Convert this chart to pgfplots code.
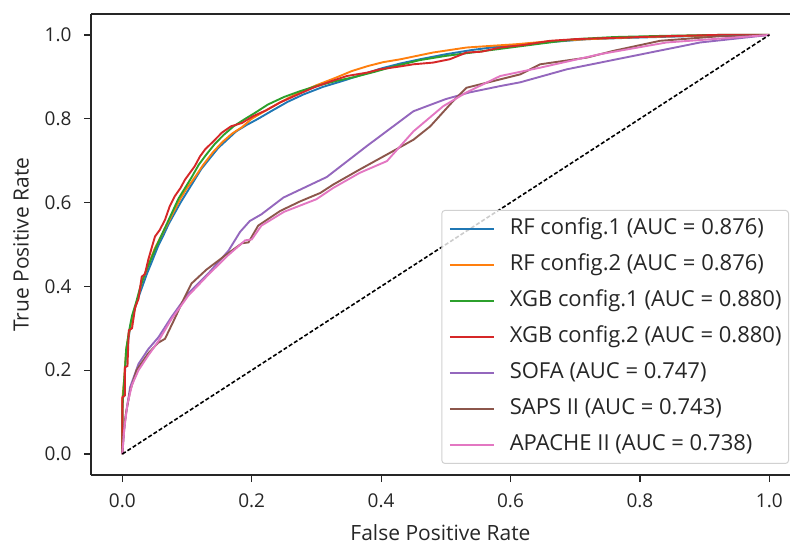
\documentclass[border=0pt]{standalone}
\usepackage{fontspec}
\setmainfont{Open Sans}
\usepackage{pgfplots}
\pgfplotsset{compat=1.18}

\definecolor{c0}{HTML}{1F77B4}
\definecolor{c1}{HTML}{FF7F0E}
\definecolor{c2}{HTML}{2CA02C}
\definecolor{c3}{HTML}{D62728}
\definecolor{c4}{HTML}{9467BD}
\definecolor{c5}{HTML}{8C564B}
\definecolor{c6}{HTML}{E377C2}

\newcommand{\tck}{\fontsize{19bp}{22bp}\selectfont}
\newcommand{\lbl}{\fontsize{21bp}{24bp}\selectfont}
\newcommand{\leg}{\fontsize{22bp}{25bp}\selectfont}

\begin{document}
\begin{tikzpicture}
\useasboundingbox (-91bp,-70bp) rectangle (699bp,475bp);
\begin{axis}[scale only axis, width=699bp, height=461bp,
  at={(0,0)}, anchor=south west,
  xmin=-0.0484, xmax=1.032, ymin=-0.05, ymax=1.05,
  axis lines*=left, tick align=outside,
  axis line style={line width=1.3bp, black!85},
  major tick length=7bp, every tick/.style={line width=1.2bp, black!85},
  xtick={0,0.2,0.4,0.6,0.8,1}, ytick={0,0.2,0.4,0.6,0.8,1},
  /pgf/number format/assume math mode=true,
  /pgf/number format/.cd, fixed, fixed zerofill, precision=1, /pgfplots/.cd,
  tick label style={font=\tck, text=black!85},
  label style={font=\lbl, text=black!85},
  xlabel={False Positive Rate}, ylabel={True Positive Rate},
  xticklabel style={yshift=-8bp},
  yticklabel style={xshift=-9bp},
  xlabel style={yshift=-10bp},
  ylabel style={yshift=9bp},
  legend cell align=left,
  legend image code/.code={\draw[#1] (0bp,0bp) -- (44bp,0bp);},
  legend style={at={(axis description cs:0.9986,0.024)}, anchor=south east,
    font=\leg, draw=black!18, line width=1bp, rounded corners=3bp,
    fill=white, fill opacity=0.8, text opacity=1, draw opacity=1,
    inner xsep=7bp, inner ysep=8bp, row sep=15bp, column sep=15bp,
    nodes={inner sep=0pt, text height=16bp, text depth=5bp, text=black!85}},
  every axis plot/.append style={line width=1.9bp},
]
\addplot[c0] coordinates {(0,0) (0,0.12) (0.003,0.16) (0.005,0.22) (0.009,0.27) (0.013,0.31) (0.018,0.34) (0.024,0.37) (0.031,0.40) (0.038,0.43) (0.046,0.46) (0.055,0.495) (0.063,0.52) (0.072,0.55) (0.081,0.575) (0.090,0.60) (0.100,0.625) (0.110,0.65) (0.122,0.68) (0.135,0.705) (0.148,0.73) (0.162,0.75) (0.176,0.77) (0.192,0.785) (0.21,0.80) (0.23,0.818) (0.255,0.84) (0.28,0.858) (0.31,0.876) (0.34,0.89) (0.37,0.905) (0.40,0.92) (0.43,0.932) (0.46,0.942) (0.50,0.954) (0.54,0.964) (0.58,0.972) (0.62,0.978) (0.67,0.984) (0.72,0.99) (0.78,0.993) (0.85,0.996) (0.92,0.999) (1,1)};
\addlegendentry{RF config.1 (AUC = 0.876)}
\addplot[c1] coordinates {(0,0) (0,0.13) (0.003,0.18) (0.006,0.25) (0.010,0.285) (0.016,0.33) (0.022,0.36) (0.030,0.41) (0.040,0.45) (0.050,0.49) (0.060,0.52) (0.070,0.55) (0.080,0.58) (0.090,0.61) (0.100,0.635) (0.112,0.66) (0.125,0.69) (0.140,0.72) (0.155,0.745) (0.170,0.765) (0.185,0.78) (0.20,0.80) (0.22,0.818) (0.245,0.84) (0.27,0.86) (0.30,0.88) (0.33,0.898) (0.355,0.914) (0.38,0.926) (0.403,0.935) (0.43,0.942) (0.48,0.958) (0.532,0.97) (0.58,0.975) (0.61,0.978) (0.66,0.985) (0.72,0.99) (0.80,0.995) (0.88,0.998) (1,1)};
\addlegendentry{RF config.2 (AUC = 0.876)}
\addplot[c2] coordinates {(0,0) (0,0.10) (0.002,0.16) (0.004,0.20) (0.006,0.25) (0.010,0.29) (0.015,0.33) (0.021,0.36) (0.028,0.40) (0.035,0.43) (0.043,0.46) (0.051,0.49) (0.060,0.52) (0.069,0.55) (0.078,0.58) (0.087,0.61) (0.097,0.635) (0.107,0.66) (0.118,0.69) (0.130,0.715) (0.143,0.74) (0.157,0.762) (0.172,0.782) (0.188,0.798) (0.205,0.814) (0.225,0.834) (0.25,0.852) (0.275,0.866) (0.30,0.878) (0.33,0.89) (0.36,0.90) (0.39,0.912) (0.42,0.925) (0.46,0.94) (0.50,0.95) (0.55,0.96) (0.60,0.97) (0.65,0.98) (0.70,0.99) (0.76,0.995) (0.84,0.998) (0.92,1.0) (1,1)};
\addlegendentry{XGB config.1 (AUC = 0.880)}
\addplot[c3] coordinates {(0,0) (0,0.135) (0.004,0.14) (0.004,0.207) (0.008,0.21) (0.010,0.295) (0.015,0.30) (0.02,0.351) (0.025,0.37) (0.030,0.423) (0.035,0.43) (0.040,0.463) (0.045,0.49) (0.0505,0.519) (0.058,0.535) (0.066,0.559) (0.073,0.59) (0.081,0.615) (0.090,0.635) (0.097,0.655) (0.105,0.672) (0.112,0.687) (0.120,0.71) (0.128,0.727) (0.140,0.745) (0.154,0.767) (0.168,0.782) (0.185,0.79) (0.202,0.806) (0.222,0.82) (0.244,0.839) (0.27,0.857) (0.295,0.874) (0.32,0.888) (0.347,0.902) (0.378,0.91) (0.398,0.918) (0.43,0.925) (0.45,0.93) (0.48,0.934) (0.506,0.942) (0.532,0.958) (0.555,0.96) (0.584,0.97) (0.62,0.976) (0.661,0.986) (0.70,0.99) (0.738,0.992) (0.80,0.995) (0.841,0.997) (0.919,1.0) (1,1)};
\addlegendentry{XGB config.2 (AUC = 0.880)}
\addplot[c4] coordinates {(0,0) (0.002,0.04) (0.004,0.079) (0.012,0.159) (0.025,0.215) (0.040,0.25) (0.056,0.279) (0.076,0.327) (0.102,0.383) (0.133,0.431) (0.164,0.485) (0.182,0.53) (0.197,0.556) (0.215,0.572) (0.249,0.612) (0.316,0.661) (0.378,0.735) (0.45,0.818) (0.50,0.847) (0.537,0.863) (0.584,0.878) (0.615,0.887) (0.687,0.918) (0.79,0.95) (0.893,0.982) (1,1)};
\addlegendentry{SOFA (AUC = 0.747)}
\addplot[c5] coordinates {(0,0) (0.002,0.05) (0.006,0.1) (0.012,0.15) (0.022,0.2) (0.04,0.24) (0.055,0.265) (0.066,0.275) (0.08,0.32) (0.095,0.37) (0.107,0.407) (0.13,0.44) (0.16,0.475) (0.185,0.503) (0.195,0.505) (0.21,0.545) (0.244,0.58) (0.275,0.603) (0.306,0.623) (0.326,0.643) (0.367,0.679) (0.414,0.719) (0.45,0.75) (0.476,0.782) (0.51,0.84) (0.532,0.874) (0.584,0.894) (0.615,0.906) (0.646,0.93) (0.718,0.946) (0.759,0.962) (0.831,0.986) (0.924,0.997) (1,1)};
\addlegendentry{SAPS II (AUC = 0.743)}
\addplot[c6] coordinates {(0,0) (0.003,0.06) (0.008,0.12) (0.015,0.165) (0.025,0.2) (0.04,0.235) (0.056,0.27) (0.076,0.322) (0.102,0.378) (0.133,0.428) (0.164,0.475) (0.19,0.51) (0.2,0.512) (0.215,0.545) (0.25,0.578) (0.30,0.608) (0.326,0.635) (0.367,0.671) (0.409,0.699) (0.45,0.77) (0.496,0.83) (0.532,0.863) (0.584,0.902) (0.646,0.922) (0.738,0.954) (0.841,0.982) (1,1)};
\addlegendentry{APACHE II (AUC = 0.738)}
\addplot[black, line width=1.6bp, dash pattern=on 4bp off 2.2bp, forget plot] coordinates {(0,0) (1,1)};
\draw[line width=1.3bp, black!85] (rel axis cs:0,1) -- (rel axis cs:1,1);
\end{axis}
\end{tikzpicture}
\end{document}
